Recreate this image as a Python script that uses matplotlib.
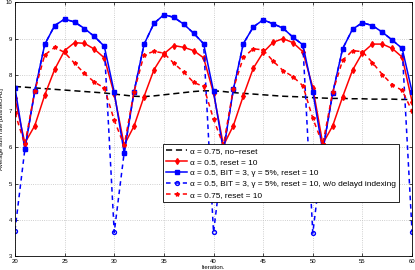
import matplotlib.pyplot as plt

# iterations 20..60
iterations = list(range(20, 61))

# alpha = 0.75, no reset
no_reset = [7.68, 7.66, 7.64, 7.62, 7.60, 7.58, 7.56, 7.54, 7.52, 7.50,
            7.47, 7.44, 7.41, 7.40, 7.42, 7.45, 7.48, 7.51, 7.54, 7.56,
            7.56, 7.54, 7.51, 7.49, 7.47, 7.45, 7.43, 7.41, 7.40, 7.39,
            7.37, 7.36, 7.35, 7.35, 7.34, 7.34, 7.33, 7.33, 7.33, 7.32,
            7.32]

# alpha = 0.5, reset = 10
reset_a05 = [7.35, 6.12, 6.60, 7.44, 8.15, 8.67, 8.89, 8.87, 8.71, 8.47,
             7.47, 6.06, 6.59, 7.40, 8.14, 8.58, 8.81, 8.76, 8.67, 8.47,
             7.50, 6.05, 6.60, 7.42, 8.18, 8.62, 8.90, 9.00, 8.89, 8.64,
             7.65, 6.10, 6.59, 7.39, 8.13, 8.61, 8.85, 8.85, 8.73, 8.49,
             7.26]

# alpha = 0.5, BIT = 3, gamma = 5%, reset = 10
bit_reset = [7.65, 5.95, 7.56, 8.84, 9.36, 9.54, 9.46, 9.28, 9.06, 8.79,
             7.52, 5.85, 7.54, 8.84, 9.42, 9.66, 9.59, 9.40, 9.15, 8.86,
             7.55, 5.90, 7.60, 8.86, 9.32, 9.52, 9.41, 9.29, 9.04, 8.83,
             7.54, 5.90, 7.49, 8.72, 9.26, 9.44, 9.36, 9.18, 8.96, 8.73,
             7.53]

# same, without delayed indexing
bit_no_delay = [3.70, 5.95, 7.56, 8.84, 9.36, 9.54, 9.46, 9.28, 9.06, 8.79,
                3.65, 5.85, 7.54, 8.84, 9.42, 9.66, 9.59, 9.40, 9.15, 8.86,
                3.65, 5.90, 7.60, 8.86, 9.32, 9.52, 9.41, 9.29, 9.04, 8.83,
                3.63, 5.90, 7.49, 8.72, 9.26, 9.44, 9.36, 9.18, 8.96, 8.73,
                3.65]

# alpha = 0.75, reset = 10
reset_a075 = [6.95, 6.08, 7.56, 8.55, 8.76, 8.62, 8.32, 8.04, 7.80, 7.64,
              6.75, 6.05, 7.54, 8.55, 8.65, 8.60, 8.32, 8.08, 7.79, 7.68,
              6.78, 6.05, 7.62, 8.48, 8.72, 8.69, 8.38, 8.12, 7.95, 7.70,
              6.80, 6.08, 7.52, 8.40, 8.67, 8.64, 8.34, 8.01, 7.73, 7.57,
              7.00]

plt.rcParams['font.family'] = ['Liberation Sans', 'DejaVu Sans']

fig = plt.figure(figsize=(4.15, 2.7), dpi=100)
ax = fig.add_axes([0.036, 0.052, 0.957, 0.939])

ax.plot(iterations, no_reset, 'k--', lw=1.1, dashes=(4, 2.5),
        label='\u03b1 = 0.75, no\u2212reset')
ax.plot(iterations, reset_a05, 'r-', lw=1.1, marker='d', ms=3.0,
        label='\u03b1 = 0.5, reset = 10')
ax.plot(iterations, bit_reset, 'b-', lw=1.1, marker='s', ms=3.0,
        label='\u03b1 = 0.5, BIT = 3, \u03b3 = 5%, reset = 10')
ax.plot(iterations, bit_no_delay, 'b--', lw=1.1, dashes=(3, 2.5), marker='o', ms=2.8,
        mfc='none', mew=1.0,
        label='\u03b1 = 0.5, BIT = 3, \u03b3 = 5%, reset = 10, w/o delayd indexing')
ax.plot(iterations, reset_a075, 'r--', lw=1.1, dashes=(3, 2.5), marker='*', ms=3.0,
        label='\u03b1 = 0.75, reset = 10')

ax.set_xlim(20, 60)
ax.set_ylim(3, 10)
ax.set_xticks(range(20, 61, 5))
ax.set_yticks(range(3, 11))
ax.grid(True, linestyle=':', color='#c0c0c0', lw=0.6)
ax.tick_params(direction='in', labelsize=4.3, length=2, width=0.5, pad=2,
               top=True, right=True)
for s in ax.spines.values():
    s.set_linewidth(0.6)

ax.set_xlabel('Iteration.', fontsize=4.3, labelpad=1)
ax.set_ylabel('Average sum rate [bits/sec/Hz]', fontsize=4.3, labelpad=1)

leg = ax.legend(loc='upper left', bbox_to_anchor=(0.373, 0.442), borderaxespad=0,
                fontsize=5.95, handlelength=2.5, handletextpad=0.3,
                labelspacing=0.38, fancybox=False, framealpha=1,
                edgecolor='black', borderpad=0.4)
leg.get_frame().set_linewidth(0.6)

fig.savefig('out.png', dpi=100)
